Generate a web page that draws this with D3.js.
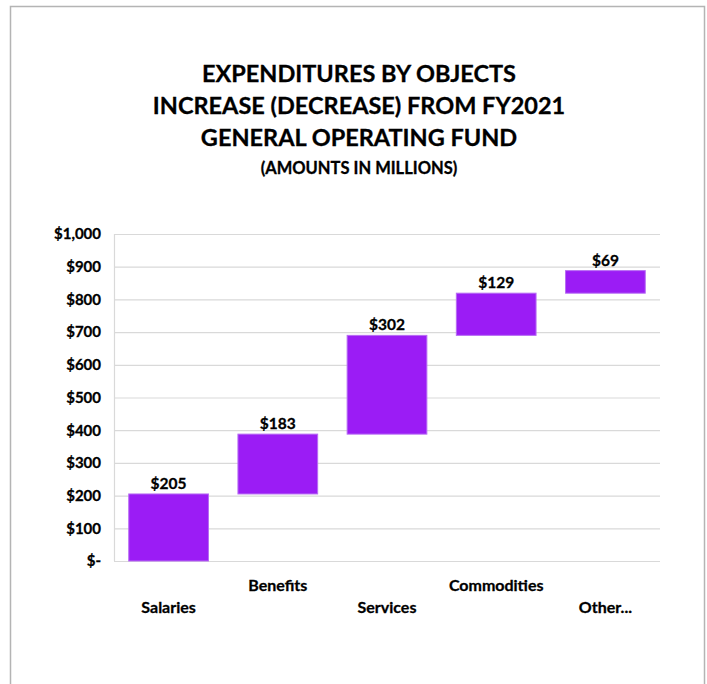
<!DOCTYPE html>
<html>
<head>
<meta charset="utf-8">
<script src="https://cdn.jsdelivr.net/npm/d3@7"></script>
<style>
  body { margin: 0; background: #fff; }
  svg text { font-family: Lato, "Open Sans", sans-serif; font-weight: bold; fill: #000; stroke: #000; stroke-width: 0.3px; }
</style>
</head>
<body>
<div id="chart"></div>
<script>
// --- data ---
const categories = ["Salaries", "Benefits", "Services", "Commodities", "Other..."];
const increases = [205, 183, 302, 129, 69];
const yTicks = [0, 100, 200, 300, 400, 500, 600, 700, 800, 900, 1000];
const titleLines = ["EXPENDITURES BY OBJECTS", "INCREASE (DECREASE) FROM FY2021", "GENERAL OPERATING FUND"];
const subtitle = "(AMOUNTS IN MILLIONS)";

const W = 707, H = 684;
const margin = { top: 234, right: 47, bottom: 123, left: 114 };
const innerW = W - margin.left - margin.right;
const innerH = H - margin.top - margin.bottom;

const svg = d3.select("#chart").append("svg").attr("width", W).attr("height", H);

// outer frame
svg.append("rect").attr("x", 10.5).attr("y", 6.5).attr("width", 694).attr("height", 700)
  .attr("fill", "none").attr("stroke", "#b4b4b4").attr("stroke-width", 1.5);

// titles
const title = svg.append("g").attr("text-anchor", "middle");
titleLines.forEach((t, i) => {
  title.append("text").attr("x", 359).attr("y", 82 + i * 32)
    .style("font-size", "23.5px").text(t);
});
title.append("text").attr("x", 359).attr("y", 174).style("font-size", "16.5px").text(subtitle);

// waterfall start/end
let run = 0;
const steps = increases.map((v, i) => {
  const s = { cat: categories[i], v: v, start: run, end: run + v };
  run += v;
  return s;
});

const g = svg.append("g").attr("transform", `translate(${margin.left},${margin.top})`);

const x = d3.scaleBand().domain(categories).range([0, innerW]).paddingInner(0.27).paddingOuter(0.135);
const y = d3.scaleLinear().domain([0, 1000]).range([innerH, 0]);

// gridlines
g.append("g").selectAll("line").data(yTicks).join("line")
  .attr("x1", 0).attr("x2", innerW)
  .attr("y1", d => y(d) + 0.5).attr("y2", d => y(d) + 0.5)
  .attr("stroke", "#d9d9d9").attr("stroke-width", 1.2);
g.append("line").attr("x1", 0.5).attr("x2", 0.5).attr("y1", 0).attr("y2", innerH)
  .attr("stroke", "#d9d9d9").attr("stroke-width", 1.2);

// y axis
const yAxis = g.append("g")
  .call(d3.axisLeft(y).tickValues(yTicks).tickSize(0).tickPadding(13)
    .tickFormat(d => d === 0 ? "$-" : "$" + d3.format(",")(d)));
yAxis.select(".domain").remove();
yAxis.selectAll("text").style("font-size", "15px");

// bars
g.selectAll("rect.bar").data(steps).join("rect").attr("class", "bar")
  .attr("x", d => x(d.cat))
  .attr("width", x.bandwidth())
  .attr("y", d => y(d.end))
  .attr("height", d => y(d.start) - y(d.end))
  .attr("fill", "#9b1cf5").attr("stroke", "#b76cf3").attr("stroke-width", 1);

// value labels
g.selectAll("text.val").data(steps).join("text").attr("class", "val")
  .attr("x", d => x(d.cat) + x.bandwidth() / 2)
  .attr("y", d => y(d.end) - 5)
  .attr("text-anchor", "middle").style("font-size", "15.5px")
  .text(d => "$" + d.v);

// category labels, staggered
g.selectAll("text.cat").data(categories).join("text").attr("class", "cat")
  .attr("x", d => x(d) + x.bandwidth() / 2)
  .attr("y", (d, i) => innerH + (i % 2 === 0 ? 52 : 30))
  .attr("text-anchor", "middle").style("font-size", "16px")
  .text(d => d);
</script>
</body>
</html>
